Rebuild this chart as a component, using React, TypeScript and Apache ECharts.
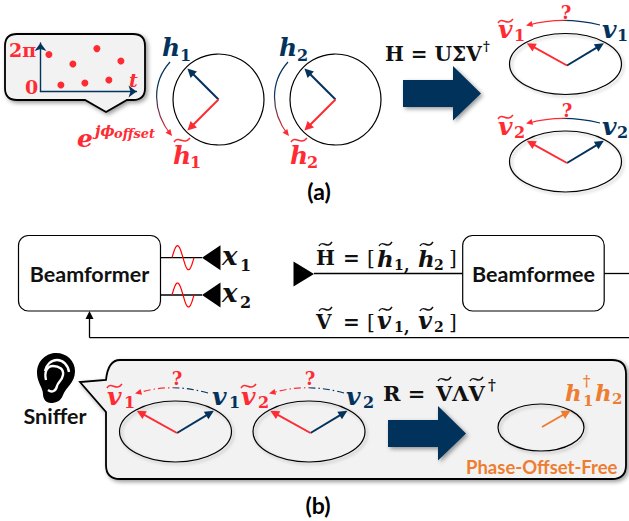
import React, { useEffect, useRef } from "react";
import * as echarts from "echarts";

// ---- data ----
const phaseTimes = [0.7, 1.7, 2.7, 3.7, 4.7, 5.7, 6.7];
const phaseOffsets = [5.6, 0.98, 4.17, 1.29, 6.5, 1.74, 4.62];
const circleNavyRed = [135, 225]; // phasor angles on the circles (deg)
const ellipseNavyRed = [31, 151]; // phasor angles on the ellipses (deg)
const phaseFreeAngle = 30;
const boxLabels = ["Beamformer", "Beamformee", "Sniffer"];
const captions = ["(a)", "(b)"];
const phaseFreeLabel = "Phase-Offset-Free";

const NAVY = "#03335c";
const RED = "#ff2b33";
const ORANGE = "#ed7d31";
const MATH = '"DejaVu Serif"';
const SANS = "Lato";

const SHADOW = { shadowBlur: 4, shadowColor: "rgba(0,0,0,0.4)", shadowOffsetX: 2, shadowOffsetY: 2 };

function panelPath() {
  return "M120 360 L612 360 Q626 360 626 374 L626 465 Q626 479 612 479 L120 479 Q106 479 106 465 L106 412 L80 382 L106 380 Q108 360 120 360 Z";
}
function calloutPath() {
  return "M17 34 L133 34 Q145 34 145 46 L145 88 Q145 100 133 100 L127 100 L106 112 L85 100 L17 100 Q5 100 5 88 L5 46 Q5 34 17 34 Z";
}
const earOuter =
  "M37 373 C37 360 47 353 56 353 C67 353 75 361 75 371 C75 383 66 387 63 395 C61 401 56 403 51 403 C46 403 43 399 43 394 C43 388 37 382 37 373 Z";
const earInner1 = "M45 371 C46 365 51 360 57 360 C63 360 68 365 69 372";
const earInner2 = "M46 380 C44 372 47 366 53 366 C59 366 64 369 63 375 C62 381 58 382 57 386 C56 391 52 393 48 390";

function text(s: string, x: number, y: number, font: string, fill: string, align = "left", extra: any = {}) {
  return { type: "text", z: 10, style: { text: s, x, y, font, fill, align, verticalAlign: "middle", ...extra } };
}
const mathFont = (size: number, italic = true) => `${italic ? "italic " : ""}bold ${size}px ${MATH}`;
const sansFont = (size: number) => `bold ${size}px ${SANS}`;

function tilde(x: number, y: number, w: number, color: string) {
  return {
    type: "bezierCurve",
    z: 10,
    shape: { x1: x, y1: y + 2, cpx1: x + w * 0.3, cpy1: y - 5, cpx2: x + w * 0.6, cpy2: y + 6, x2: x + w, y2: y - 2 },
    style: { stroke: color, lineWidth: 1.5, fill: "none" },
  };
}

// symbol with subscript, optional tilde
function sym(base: string, x: number, y: number, sub: string, color: string, opts: any = {}) {
  const size = opts.size ?? 25;
  const subX = opts.subX ?? x + size * 0.68;
  const out: any[] = [text(base, x, y, mathFont(size), color)];
  if (sub) out.push(text(sub, subX, y + (opts.subDy ?? 7), mathFont(opts.subSize ?? 16, false), color));
  if (opts.tilde) out.push(tilde(x + (opts.tx ?? 0), y - (opts.tDy ?? 15), opts.tw ?? 16, color));
  return out;
}

function arrowHead(x: number, y: number, ang: number, color: string, size = 7.5, half = 3.6) {
  const ax = Math.cos(ang),
    ay = Math.sin(ang);
  const bx = x - ax * size,
    by = y - ay * size;
  return {
    type: "polygon",
    z: 6,
    shape: {
      points: [
        [x, y],
        [bx - ay * half, by + ax * half],
        [bx + ay * half, by - ax * half],
      ],
    },
    style: { fill: color },
  };
}

function phasor(cx: number, cy: number, deg: number, len: number, color: string, width = 2) {
  const a = (deg * Math.PI) / 180;
  const ex = cx + Math.cos(a) * len;
  const ey = cy - Math.sin(a) * len;
  const head = Math.atan2(ey - cy, ex - cx);
  return [
    {
      type: "line",
      z: 5,
      shape: { x1: cx, y1: cy, x2: ex - Math.cos(head) * 4, y2: ey - Math.sin(head) * 4 },
      style: { stroke: color, lineWidth: width },
    },
    arrowHead(ex, ey, head, color, 9, 4.5),
  ];
}

function dial(cx: number, cy: number) {
  return [
    { type: "circle", z: 2, shape: { cx, cy, r: 45.5 }, style: { fill: "#fff", stroke: "#000", lineWidth: 1.2 } },
    ...phasor(cx, cy, circleNavyRed[0], 44, NAVY),
    ...phasor(cx, cy, circleNavyRed[1], 44, RED),
  ];
}

function ell(cx: number, cy: number, rx: number, ry: number) {
  return {
    type: "ellipse",
    z: 2,
    shape: { cx, cy, rx, ry },
    style: { fill: "rgba(0,0,0,0)", stroke: "#000", lineWidth: 1.2, ...SHADOW, shadowBlur: 3, shadowColor: "rgba(0,0,0,0.25)" },
  };
}

function svdDial(cx: number, cy: number) {
  return [
    ell(cx, cy, 56, 30.5),
    ...phasor(cx + 1.5, cy + 1.5, ellipseNavyRed[0], 43, NAVY),
    ...phasor(cx + 1.5, cy + 1.5, ellipseNavyRed[1], 46, RED),
  ];
}

function vertArc(x1: number, y1: number, x2: number, y2: number, bulge: number) {
  return [
    {
      type: "bezierCurve",
      z: 4,
      shape: { x1, y1, cpx1: bulge, cpy1: y1 + 20, cpx2: bulge, cpy2: y2 - 25, x2: x2 - 1, y2: y2 - 1 },
      style: {
        fill: "none",
        lineWidth: 1.2,
        stroke: new echarts.graphic.LinearGradient(0, 0, 0, 1, [
          { offset: 0, color: NAVY },
          { offset: 0.4, color: NAVY },
          { offset: 1, color: RED },
        ]),
      },
    },
    arrowHead(x2, y2, 0.9, RED, 6.5, 3),
  ];
}

function topArc(xr: number, xl: number, y: number, peak: number, dashed = false) {
  return [
    {
      type: "bezierCurve",
      z: 4,
      shape: { x1: xr, y1: y, cpx1: xr - 25, cpy1: peak, cpx2: xl + 25, cpy2: peak, x2: xl + 3, y2: y },
      style: {
        fill: "none",
        lineWidth: 1.2,
        lineDash: dashed ? [7, 3, 1.5, 3] : undefined,
        stroke: new echarts.graphic.LinearGradient(0, 0, 1, 0, [
          { offset: 0, color: RED },
          { offset: 0.45, color: RED },
          { offset: 0.55, color: NAVY },
          { offset: 1, color: NAVY },
        ]),
      },
    },
    arrowHead(xl, y + 0.5, Math.PI - 0.25, RED, 6.5, 3),
  ];
}

function wave(x: number, y: number) {
  const pts: number[][] = [];
  for (let i = 0; i <= 44; i++) pts.push([x + i * 0.5, y - Math.sin((i / 44) * Math.PI * 2) * 12]);
  return { type: "polyline", z: 5, shape: { points: pts }, style: { stroke: "#ff0000", lineWidth: 1.2, fill: "none" } };
}

function hline(x1: number, x2: number, y: number) {
  return { type: "line", z: 3, shape: { x1, y1: y, x2, y2: y }, style: { stroke: "#000", lineWidth: 1.3 } };
}

function box(x: number, y: number, w: number, h: number) {
  return { type: "rect", z: 3, shape: { x, y, width: w, height: h, r: 10 }, style: { fill: "#fff", stroke: "#000", lineWidth: 1.2 } };
}

function bigArrow(x: number, y: number) {
  return {
    type: "polygon",
    z: 3,
    shape: {
      points: [
        [x, y - 13.5],
        [x + 50, y - 13.5],
        [x + 50, y - 27.5],
        [x + 78, y],
        [x + 50, y + 27],
        [x + 50, y + 13.5],
        [x, y + 13.5],
      ],
    },
    style: { fill: NAVY, ...SHADOW },
  };
}

function buildElements() {
  const e: any[] = [];
  // ---------- (a) ----------
  e.push({ type: "callout", z: 0, style: { fill: "#f2f2f2", stroke: "#000", lineWidth: 1.8, ...SHADOW } });
  e.push(text("2π", 9, 50, mathFont(19, false), RED));
  e.push(text("0", 25, 87, mathFont(19, false), RED));
  e.push(text("t", 129, 80, mathFont(19), RED));
  e.push(text("e", 77, 138, mathFont(25), RED));
  e.push(text("jϕ", 95, 131, mathFont(15), RED));
  e.push(text("offset", 114, 133, mathFont(13), RED));

  e.push(...dial(218.5, 99.5), ...dial(335.5, 99.5));
  e.push(...sym("h", 162, 47, "1", NAVY, { subX: 180, subDy: 8 }));
  e.push(...sym("h", 279, 47, "2", NAVY, { subX: 297, subDy: 8 }));
  e.push(...sym("h", 173, 155, "1", RED, { subX: 190, subDy: 7, tilde: true, tDy: 15, tx: 1 }));
  e.push(...sym("h", 290, 155, "2", RED, { subX: 307, subDy: 7, tilde: true, tDy: 15, tx: 1 }));
  e.push(...vertArc(170, 62, 172, 136, 152));
  e.push(...vertArc(288, 62, 289, 136, 270));
  e.push(text(captions[0], 319, 191, sansFont(23), "#000", "center"));

  e.push(text("H = UΣV", 385, 54, `bold 20px ${MATH}`, "#111"));
  e.push(text("†", 483, 46, `bold 13px ${MATH}`, "#111"));
  e.push(bigArrow(403, 93.5));

  e.push(...svdDial(565.5, 64), ...svdDial(565.5, 161.5));
  e.push(...topArc(600, 526, 25, 19));
  e.push(...topArc(600, 526, 123, 117));
  e.push(text("?", 566, 12, mathFont(18, false), RED, "center"));
  e.push(text("?", 567, 110, mathFont(18, false), RED, "center"));
  e.push(...sym("v", 498, 29, "1", RED, { subX: 514, subDy: 6, tilde: true, tDy: 8, tw: 15 }));
  e.push(...sym("v", 602, 29, "1", NAVY, { subX: 617, subDy: 6 }));
  e.push(...sym("v", 498, 126, "2", RED, { subX: 514, subDy: 6, tilde: true, tDy: 9, tw: 15 }));
  e.push(...sym("v", 602, 126, "2", NAVY, { subX: 617, subDy: 6 }));

  // ---------- (b) link ----------
  e.push(hline(160.5, 202, 257.7), hline(160.5, 202, 295));
  e.push(hline(314, 463, 273.5), hline(604, 629, 273.5), hline(89.5, 629, 337.7));
  e.push({ type: "line", z: 3, shape: { x1: 89.5, y1: 317, x2: 89.5, y2: 337.7 }, style: { stroke: "#000", lineWidth: 1.3 } });
  e.push(arrowHead(89.5, 311, Math.PI / 2 + Math.PI, "#000", 8, 4));
  e.push(box(18.5, 235.5, 142, 75.5), box(462.7, 235.5, 141.5, 75.5));
  e.push(text(boxLabels[0], 89.5, 274, sansFont(21.5), "#111", "center"));
  e.push(text(boxLabels[1], 533.5, 274, sansFont(21.5), "#111", "center"));
  e.push(wave(172, 257.7), wave(172, 295));
  for (const y of [257.7, 295]) {
    e.push({
      type: "polygon",
      z: 6,
      shape: { points: [[202, y], [220.5, y - 12.5], [220.5, y + 12.5]] },
      style: { fill: "#000" },
    });
  }
  e.push({ type: "polygon", z: 6, shape: { points: [[293.5, 261.5], [314, 274], [293.5, 286.5]] }, style: { fill: "#000" } });
  e.push(...sym("x", 222, 256, "1", "#111", { subX: 240, subDy: 9, size: 26 }));
  e.push(...sym("x", 222, 293, "2", "#111", { subX: 240, subDy: 9, size: 26 }));

  // H~ = [h~1, h~2]
  e.push(text("H", 316, 258, `bold 20px ${MATH}`, "#111"));
  e.push(tilde(319, 244, 13, "#111"));
  e.push(text("=", 343, 258, `bold 20px ${MATH}`, "#111"));
  e.push(text("[", 367, 258, `20px ${MATH}`, "#111"));
  e.push(...sym("h", 377, 258, "1", "#111", { subX: 394, subDy: 7, size: 23, subSize: 14, tilde: true, tDy: 14, tw: 13, tx: 2 }));
  e.push(text(",", 404, 265, `bold 16px ${MATH}`, "#111"));
  e.push(...sym("h", 418, 258, "2", "#111", { subX: 434, subDy: 7, size: 23, subSize: 14, tilde: true, tDy: 14, tw: 13, tx: 2 }));
  e.push(text("]", 449, 258, `20px ${MATH}`, "#111"));
  // V~ = [v~1, v~2]
  e.push(text("V", 316, 322, `bold 20px ${MATH}`, "#111"));
  e.push(tilde(319, 309, 13, "#111"));
  e.push(text("=", 343, 322, `bold 20px ${MATH}`, "#111"));
  e.push(text("[", 367, 322, `20px ${MATH}`, "#111"));
  e.push(...sym("v", 377, 320, "1", "#111", { subX: 394, subDy: 7, size: 24, subSize: 14, tilde: true, tDy: 11, tw: 13, tx: 2 }));
  e.push(text(",", 404, 327, `bold 16px ${MATH}`, "#111"));
  e.push(...sym("v", 418, 320, "2", "#111", { subX: 434, subDy: 7, size: 24, subSize: 14, tilde: true, tDy: 11, tw: 13, tx: 2 }));
  e.push(text("]", 449, 322, `20px ${MATH}`, "#111"));

  // ---------- sniffer ----------
  e.push({ type: "earOuter", z: 3, style: { fill: "#000" } });
  e.push({ type: "earInner1", z: 4, style: { fill: "none", stroke: "#fff", lineWidth: 2.4 } });
  e.push({ type: "earInner2", z: 4, style: { fill: "none", stroke: "#fff", lineWidth: 2.4 } });
  e.push(text(boxLabels[2], 55, 416, sansFont(21.5), "#111", "center"));
  e.push({ type: "panel", z: 1, style: { fill: "#f2f2f2", stroke: "#000", lineWidth: 1.8, ...SHADOW } });

  e.push(...svdDial(175.5, 431.5), ...svdDial(309, 431.5));
  e.push(...topArc(208, 135, 393, 386, true));
  e.push(...topArc(344, 269, 393, 386, true));
  e.push(text("?", 177, 378, mathFont(18, false), RED, "center"));
  e.push(text("?", 310, 378, mathFont(18, false), RED, "center"));
  e.push(...sym("v", 107, 396, "1", RED, { subX: 124, subDy: 6, tilde: true, tDy: 10, tw: 15 }));
  e.push(...sym("v", 212, 396, "1", NAVY, { subX: 229, subDy: 6 }));
  e.push(...sym("v", 241, 396, "2", RED, { subX: 258, subDy: 6, tilde: true, tDy: 10, tw: 15 }));
  e.push(...sym("v", 346, 396, "2", NAVY, { subX: 363, subDy: 6 }));

  e.push(text("R =", 383, 393, `bold 21px ${MATH}`, "#111"));
  e.push(text("VΛV", 436, 393, `bold 21px ${MATH}`, "#111"));
  e.push(tilde(438, 379, 13, "#111"));
  e.push(tilde(470, 379, 13, "#111"));
  e.push(text("†", 488, 385, `bold 15px ${MATH}`, "#111"));
  e.push(bigArrow(388, 433.5));

  e.push(ell(541, 427.5, 43, 23.5));
  e.push(...phasor(542, 427, phaseFreeAngle, 33, ORANGE));
  e.push(text("h", 565, 392, mathFont(23), ORANGE));
  e.push(text("†", 583, 381, mathFont(14, false), ORANGE));
  e.push(text("1", 583, 401, mathFont(15, false), ORANGE));
  e.push(text("h", 595, 392, mathFont(23), ORANGE));
  e.push(text("2", 612, 399, mathFont(15, false), ORANGE));
  e.push(text(phaseFreeLabel, 466, 467, sansFont(18.5), ORANGE));
  e.push(text(captions[1], 318, 505, sansFont(23), "#000", "center"));
  return e;
}

export default function App() {
  const ref = useRef<HTMLDivElement>(null);
  useEffect(() => {
    document.body.style.margin = "0";
    const g: any = echarts.graphic;
    g.registerShape("callout", g.extendPath(calloutPath(), {}));
    g.registerShape("panel", g.extendPath(panelPath(), {}));
    g.registerShape("earOuter", g.extendPath(earOuter, {}));
    g.registerShape("earInner1", g.extendPath(earInner1, {}));
    g.registerShape("earInner2", g.extendPath(earInner2, {}));
    const chart = echarts.init(ref.current!, undefined, { renderer: "svg" });
    const axisLine = {
      show: true,
      onZero: false,
      symbol: ["none", "arrow"],
      symbolSize: [9, 8],
      lineStyle: { color: NAVY, width: 1.4 },
    };
    const plain = { axisTick: { show: false }, axisLabel: { show: false }, splitLine: { show: false }, z: 3 };
    chart.setOption({
      animation: false,
      backgroundColor: "#fff",
      grid: { left: 40.5, top: 43, width: 96, height: 48.5, containLabel: false },
      xAxis: { type: "value", min: 0, max: 8, axisLine, ...plain },
      yAxis: { type: "value", min: 0, max: 7.35, axisLine, ...plain },
      series: [
        {
          type: "scatter",
          z: 4,
          symbolSize: 7,
          itemStyle: { color: RED, opacity: 1 },
          data: phaseTimes.map((t, i) => [t, phaseOffsets[i]]),
        },
      ],
      graphic: { elements: buildElements() },
    });
    return () => chart.dispose();
  }, []);
  return <div ref={ref} style={{ position: "absolute", left: 0, top: 0, width: 629, height: 521 }} />;
}
